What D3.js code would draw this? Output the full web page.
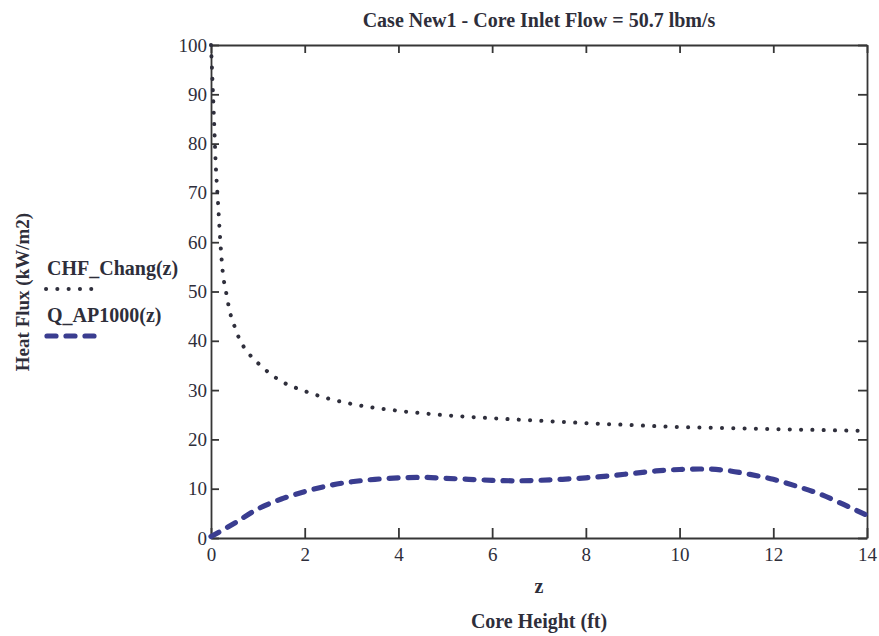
<!DOCTYPE html>
<html>
<head>
<meta charset="utf-8">
<script src="https://cdn.jsdelivr.net/npm/d3@7"></script>
<style>
  html, body { margin: 0; padding: 0; background: #ffffff; }
  svg text { font-family: "Liberation Serif", "Times New Roman", serif; fill: #2e2e3a; }
</style>
</head>
<body>
<svg id="chart" width="879" height="636"></svg>
<script>
// Core height positions (ft) and heat flux values (kW/m2)
const chfZ = [0, 0.03, 0.06, 0.1, 0.15, 0.2, 0.25, 0.32, 0.4, 0.5, 0.6, 0.8, 1.0, 1.5, 2, 2.5, 3, 4, 5, 6, 7, 8, 9, 10, 11, 12, 13, 14];
const chfVal = [100, 93, 86, 76, 68, 60, 54, 50, 46, 43, 40.5, 37.5, 35.5, 31.8, 29.8, 28.3, 27.2, 25.8, 24.9, 24.3, 23.8, 23.3, 22.9, 22.5, 22.3, 22.1, 21.9, 21.7];

const qZ = [0, 0.5, 1, 1.5, 2, 2.5, 3, 3.5, 4, 4.5, 5, 5.5, 6, 6.5, 7, 7.5, 8, 8.5, 9, 9.5, 10, 10.5, 11, 11.5, 12, 12.5, 13, 13.5, 14];
const qVal = [0.3, 3.0, 5.9, 7.9, 9.4, 10.6, 11.4, 11.9, 12.2, 12.3, 12.1, 11.9, 11.7, 11.6, 11.7, 11.9, 12.2, 12.6, 13.1, 13.6, 13.9, 14.0, 13.7, 12.9, 11.9, 10.5, 8.9, 6.8, 4.6];

const xTicks = [0, 2, 4, 6, 8, 10, 12, 14];
const yTicks = [0, 10, 20, 30, 40, 50, 60, 70, 80, 90, 100];

const titleText = "Case New1 - Core Inlet Flow = 50.7 lbm/s";
const xVarText = "z";
const xLabelText = "Core Height (ft)";
const yLabelText = "Heat Flux (kW/m2)";
const seriesNames = ["CHF_Chang(z)", "Q_AP1000(z)"];

const svg = d3.select("#chart");
const plotL = 211, plotR = 867, plotT = 45, plotB = 538;

const x = d3.scaleLinear().domain([0, 14]).range([plotL, plotR]);
const y = d3.scaleLinear().domain([0, 100]).range([plotB, plotT]);

const dotStyle = { color: "#2f2f3c", width: 4, dash: "0.1 11.2" };
const dashStyle = { color: "#3a3d90", width: 5.2, dash: "9 10" };

// Axes: labelled left and bottom, tick-only top and right, all ticks inward
const axL = svg.append("g").attr("transform", `translate(${plotL},0)`)
  .call(d3.axisLeft(y).tickValues(yTicks).tickSizeInner(-8).tickSizeOuter(0).tickPadding(4));
const axB = svg.append("g").attr("transform", `translate(0,${plotB})`)
  .call(d3.axisBottom(x).tickValues(xTicks).tickSizeInner(-10).tickSizeOuter(0).tickPadding(10));
const axT = svg.append("g").attr("transform", `translate(0,${plotT})`)
  .call(d3.axisTop(x).tickValues(xTicks).tickSizeInner(-8).tickSizeOuter(0).tickFormat(""));
const axR = svg.append("g").attr("transform", `translate(${plotR},0)`)
  .call(d3.axisRight(y).tickValues(yTicks).tickSizeInner(-9).tickSizeOuter(0).tickFormat(""));

[axL, axB, axT, axR].forEach(g => {
  g.selectAll(".domain").attr("stroke", "#363636").attr("stroke-width", 1.8);
  g.selectAll(".tick line").attr("stroke", "#363636").attr("stroke-width", 1.8);
  g.selectAll(".tick text")
    .attr("font-family", "Liberation Serif, serif")
    .attr("font-size", 19)
    .attr("fill", "#2e2e3a");
});

// Curves
const line = d3.line().x(d => x(d[0])).y(d => y(d[1])).curve(d3.curveMonotoneX);

svg.append("path")
  .datum(chfZ.map((z, i) => [z, chfVal[i]]))
  .attr("d", line)
  .attr("fill", "none")
  .attr("stroke", dotStyle.color)
  .attr("stroke-width", dotStyle.width)
  .attr("stroke-linecap", "round")
  .attr("stroke-dasharray", dotStyle.dash);

svg.append("path")
  .datum(qZ.map((z, i) => [z, qVal[i]]))
  .attr("d", line)
  .attr("fill", "none")
  .attr("stroke", dashStyle.color)
  .attr("stroke-width", dashStyle.width)
  .attr("stroke-linecap", "round")
  .attr("stroke-dasharray", dashStyle.dash);

// Titles
svg.append("text").attr("x", (plotL + plotR) / 2).attr("y", 27)
  .attr("text-anchor", "middle").attr("font-weight", "bold").attr("font-size", 20)
  .text(titleText);

svg.append("text").attr("x", (plotL + plotR) / 2).attr("y", 593)
  .attr("text-anchor", "middle").attr("font-weight", "bold").attr("font-size", 20)
  .text(xVarText);

svg.append("text").attr("x", (plotL + plotR) / 2).attr("y", 628)
  .attr("text-anchor", "middle").attr("font-weight", "bold").attr("font-size", 20)
  .text(xLabelText);

svg.append("text")
  .attr("transform", "translate(29,292) rotate(-90)")
  .attr("text-anchor", "middle").attr("font-weight", "bold").attr("font-size", 19)
  .text(yLabelText);

// Legend
const legend = svg.append("g");
const styles = [dotStyle, dashStyle];
[0, 1].forEach(i => {
  const ty = 275 + i * 47;
  legend.append("text").attr("x", 47).attr("y", ty)
    .attr("font-weight", "bold").attr("font-size", 20)
    .text(seriesNames[i]);
  legend.append("line")
    .attr("x1", i === 0 ? 46 : 47).attr("x2", i === 0 ? 93 : 95)
    .attr("y1", ty + 14).attr("y2", ty + 14)
    .attr("stroke", styles[i].color)
    .attr("stroke-width", styles[i].width)
    .attr("stroke-linecap", "round")
    .attr("stroke-dasharray", styles[i].dash);
});
</script>
</body>
</html>
